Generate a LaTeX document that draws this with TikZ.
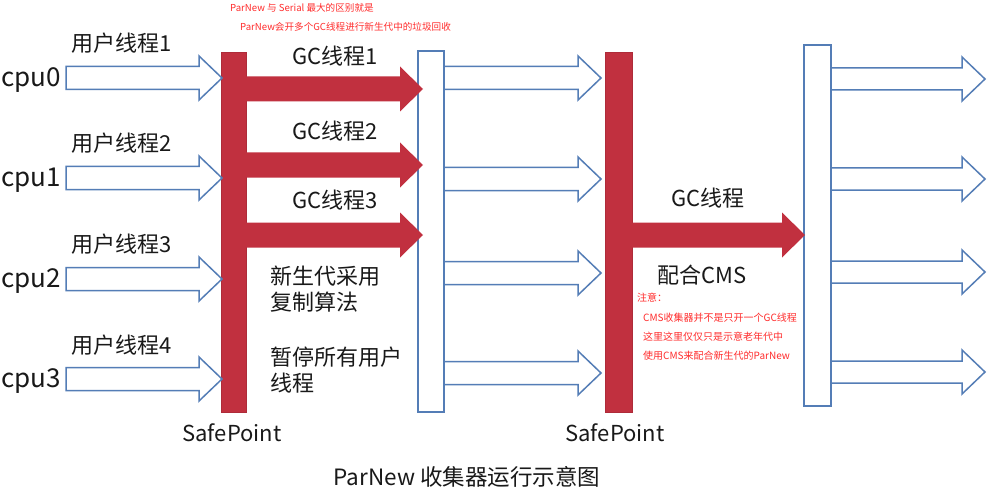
\documentclass[tikz,border=0pt]{standalone}
\usepackage{fontspec}
\setmainfont{Noto Sans CJK SC}
\usetikzlibrary{calc}
\definecolor{barred}{RGB}{193,48,63}
\definecolor{lineblue}{RGB}{84,125,182}
\definecolor{notered}{RGB}{255,45,45}
\definecolor{textdark}{RGB}{25,25,25}
% #1 style, #2 start (on axis), #3 tip, #4 body half height, #5 head half height
\newcommand\blockarrow[5]{%
  \path[#1] let \p1=#2, \p2=#3 in
   (\x1,\y1+#4) -- (\x2-23pt,\y1+#4) -- (\x2-23pt,\y1+#5) -- (\x2,\y1)
   -- (\x2-23pt,\y1-#5) -- (\x2-23pt,\y1-#4) -- (\x1,\y1-#4) -- cycle;}
\tikzset{
  redbar/.style={fill=barred, draw=barred!90!black, line width=0.6pt, inner sep=0pt, outer sep=0pt},
  bluebar/.style={fill=white, draw=lineblue, line width=1.5pt, inner sep=0pt, outer sep=0pt},
  bluearrow/.style={fill=white, draw=lineblue, line width=1.5pt, line join=miter},
  redarrow/.style={fill=barred},
  biglabel/.style={text=textdark, inner sep=0pt, font=\fontsize{22}{26}\selectfont},
  cpulabel/.style={text=textdark, inner sep=0pt, anchor=west, font=\fontsize{26}{30}\selectfont},
  blocktext/.style={text=textdark, inner sep=0pt, align=left, font=\fontsize{22}{26}\selectfont},
  notetext/.style={text=notered, inner sep=0pt, font=\fontsize{10}{12}\selectfont},
  toptext/.style={text=notered, inner sep=0pt, font=\fontsize{9.6}{12}\selectfont},
}
\begin{document}
\begin{tikzpicture}[x=1pt,y=-1pt]
\useasboundingbox (0,0) rectangle (988,492);
\fill[white] (0,0) rectangle (988,492);
% bars
\node[bluebar, minimum width=26pt, minimum height=361pt, anchor=north west] (mb1) at (418,51) {};
\node[bluebar, minimum width=27pt, minimum height=361pt, anchor=north west] (mb2) at (804,45) {};
% row levels
\foreach \n/\y in {c0/78,c1/178,c2/279,c3/379,g1/89,g2/165,g3/235,m0/78,m1/179,m2/273,m3/373,o0/79,o1/179,o2/272,o3/372,gg/235}
  \coordinate (\n) at (0,\y);
% cpu labels
\node[cpulabel] (cpu0) at (1,80) {cpu0};
\node[cpulabel] (cpu1) at (1,180) {cpu1};
\node[cpulabel] (cpu2) at (1,281) {cpu2};
\node[cpulabel] (cpu3) at (1,381) {cpu3};
\coordinate (instart) at (66,0);
% user thread labels
\node[biglabel] (u1) at (122,43) {用户线程1};
\node[biglabel] (u2) at (122,143) {用户线程2};
\node[biglabel] (u3) at (122,244) {用户线程3};
\node[biglabel] (u4) at (122,345) {用户线程4};
% red bars
\node[redbar, minimum width=25pt, minimum height=360pt, anchor=north west] (sp1) at (221,52) {};
\node[redbar, minimum width=27pt, minimum height=360pt, anchor=north west] (sp2) at (605,52) {};
% input arrows
\foreach \r in {c0,c1,c2,c3}
  \blockarrow{bluearrow}{(instart |- \r)}{($(sp1.west |- \r)+(1,0)$)}{11.5pt}{22pt};
% GC arrows
\foreach \r in {g1,g2,g3}
  \blockarrow{redarrow}{($(sp1.east |- \r)+(-2,0)$)}{($(mb1.west |- \r)+(5,0)$)}{12.5pt}{22.5pt};
% middle arrows
\foreach \r in {m0,m1,m2,m3}
  \blockarrow{bluearrow}{(mb1.east |- \r)}{($(sp2.west |- \r)+(-4,0)$)}{11.5pt}{22pt};
% GC thread arrow to CMS
\blockarrow{redarrow}{($(sp2.east |- gg)+(-2,0)$)}{($(mb2.west |- gg)+(1,0)$)}{12.5pt}{22.5pt};
% output arrows
\foreach \r in {o0,o1,o2,o3}
  \blockarrow{bluearrow}{(mb2.east |- \r)}{($(mb2.east |- \r)+(154,0)$)}{11pt}{22pt};
% GC labels
\node[biglabel] (gc1) at (335,56) {GC线程1};
\node[biglabel] (gc2) at (335,131) {GC线程2};
\node[biglabel] (gc3) at (335,200) {GC线程3};
\node[biglabel] (gc) at (708,198) {GC线程};
\node[biglabel] (cms) at (702,275) {配合CMS};
% block texts
\node[blocktext, anchor=west] (copy) at (270,289.5) {新生代采用\\复制算法};
\node[blocktext, anchor=west] (stw) at (270,370) {暂停所有用户\\线程};
% safepoints
\node[biglabel] (sp1l) at (232,433) {SafePoint};
\node[biglabel] (sp2l) at (615,433) {SafePoint};
% title
\node[text=textdark, inner sep=0pt, font=\fontsize{22.5}{28}\selectfont] (title) at (467,477) {ParNew 收集器运行示意图};
% red annotations
\node[toptext, anchor=west] (n1) at (230,8) {ParNew 与 Serial 最大的区别就是};
\node[toptext, anchor=west] (n2) at (240,27) {ParNew会开多个GC线程进行新生代中的垃圾回收};
\node[notetext, anchor=west] (k0) at (637,298) {注意：};
\node[notetext, anchor=west] (k1) at (643,318) {CMS收集器并不是只开一个GC线程};
\node[notetext, anchor=west] (k2) at (643,337) {这里这里仅仅只是示意老年代中};
\node[notetext, anchor=west] (k3) at (643,356) {使用CMS来配合新生代的ParNew};
\end{tikzpicture}
\end{document}
